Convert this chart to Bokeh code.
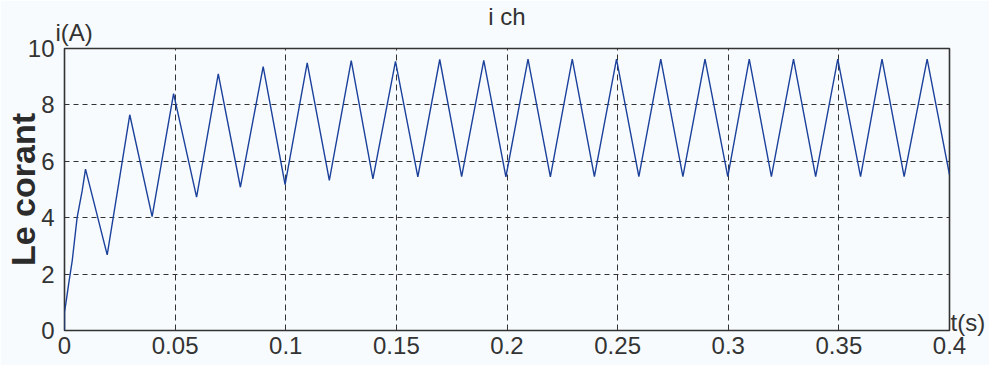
from bokeh.plotting import figure
from bokeh.models import Range1d, FixedTicker, Label
from bokeh.embed import file_html
from bokeh.resources import INLINE

# ---- data ----
t_s = [0.0, 0.0, 0.0008, 0.0019, 0.0035, 0.0057, 0.0080, 0.0095,
       0.0193, 0.0295, 0.0396, 0.0493, 0.0597, 0.0695, 0.0795, 0.0898,
       0.0997, 0.1097, 0.1197, 0.1296, 0.1394, 0.1496, 0.1597, 0.1696,
       0.1795, 0.1895, 0.1995, 0.2095, 0.2196, 0.2295, 0.2395, 0.2495,
       0.2596, 0.2695, 0.2795, 0.2895, 0.2998, 0.3095, 0.3195, 0.3295,
       0.3395, 0.3495, 0.3598, 0.3695, 0.3795, 0.3899, 0.4000]
i_A = [0.0, 0.65, 1.06, 1.66, 2.48, 4.00, 4.96, 5.72,
       2.68, 7.65, 4.04, 8.40, 4.73, 9.10, 5.08, 9.36,
       5.17, 9.49, 5.32, 9.57, 5.38, 9.54, 5.45, 9.61,
       5.46, 9.58, 5.45, 9.62, 5.45, 9.62, 5.46, 9.62,
       5.46, 9.62, 5.46, 9.62, 5.46, 9.62, 5.46, 9.62,
       5.46, 9.62, 5.46, 9.62, 5.46, 9.62, 5.52]

x_ticks = [0, 0.05, 0.1, 0.15, 0.2, 0.25, 0.3, 0.35, 0.4]
x_tick_labels = ["0", "0.05", "0.1", "0.15", "0.2", "0.25", "0.3", "0.35", "0.4"]
y_ticks = [0, 2, 4, 6, 8, 10]
y_tick_labels = ["0", "2", "4", "6", "8", "10"]

title_text = "i ch"
y_label_text = "Le corant"
y_unit_text = "i(A)"
x_unit_text = "t(s)"

BG = "#f7fbfd"
INK = "#333333"
BLUE = "#1c419c"
FONT = "Liberation Sans"

p = figure(width=989, height=365, title=title_text,
           x_range=Range1d(0, 0.4), y_range=Range1d(0, 10),
           output_backend="svg", toolbar_location=None,
           min_border_left=64, min_border_right=40,
           min_border_top=48, min_border_bottom=35)
p.background_fill_color = BG
p.border_fill_color = BG
p.outline_line_color = INK
p.outline_line_width = 1.6

p.title.align = "center"
p.title.text_font = FONT
p.title.text_font_size = "24px"
p.title.text_font_style = "normal"
p.title.text_color = INK
p.title.standoff = -16

for ax, ticks, labels, standoff in ((p.xaxis[0], x_ticks, x_tick_labels, 6),
                                     (p.yaxis[0], y_ticks, y_tick_labels, 10)):
    ax.ticker = FixedTicker(ticks=ticks)
    ax.major_label_overrides = {t: s for t, s in zip(ticks, labels)}
    ax.axis_line_color = None
    ax.major_tick_line_color = None
    ax.minor_tick_line_color = None
    ax.major_tick_out = 0
    ax.major_tick_in = 0
    ax.minor_tick_out = 0
    ax.minor_tick_in = 0
    ax.major_label_standoff = standoff
    ax.major_label_text_font = FONT
    ax.major_label_text_font_size = "24px"
    ax.major_label_text_color = INK

p.yaxis.axis_label = y_label_text
p.yaxis.axis_label_text_font = FONT
p.yaxis.axis_label_text_font_size = "34px"
p.yaxis.axis_label_text_font_style = "bold"
p.yaxis.axis_label_text_color = "#2b2b2b"
p.yaxis.axis_label_standoff = -17

p.xgrid.grid_line_color = INK
p.xgrid.grid_line_dash = "6 4"
p.xgrid.grid_line_width = 1
p.ygrid.grid_line_color = INK
p.ygrid.grid_line_dash = "5 4"
p.ygrid.grid_line_width = 1

p.line(t_s, i_A, line_color=BLUE, line_width=1.4)

p.add_layout(Label(x=55, y=31.5, x_units="canvas", y_units="canvas", text=y_unit_text,
                   text_align="left", text_baseline="alphabetic",
                   text_font=FONT, text_font_size="24px", text_color=INK), "above")
p.add_layout(Label(x=950, y=322, x_units="canvas", y_units="canvas", text=x_unit_text,
                   text_align="left", text_baseline="alphabetic",
                   text_font=FONT, text_font_size="24px", text_color=INK), "right")

open("out.html", "w").write(file_html(p, INLINE))
